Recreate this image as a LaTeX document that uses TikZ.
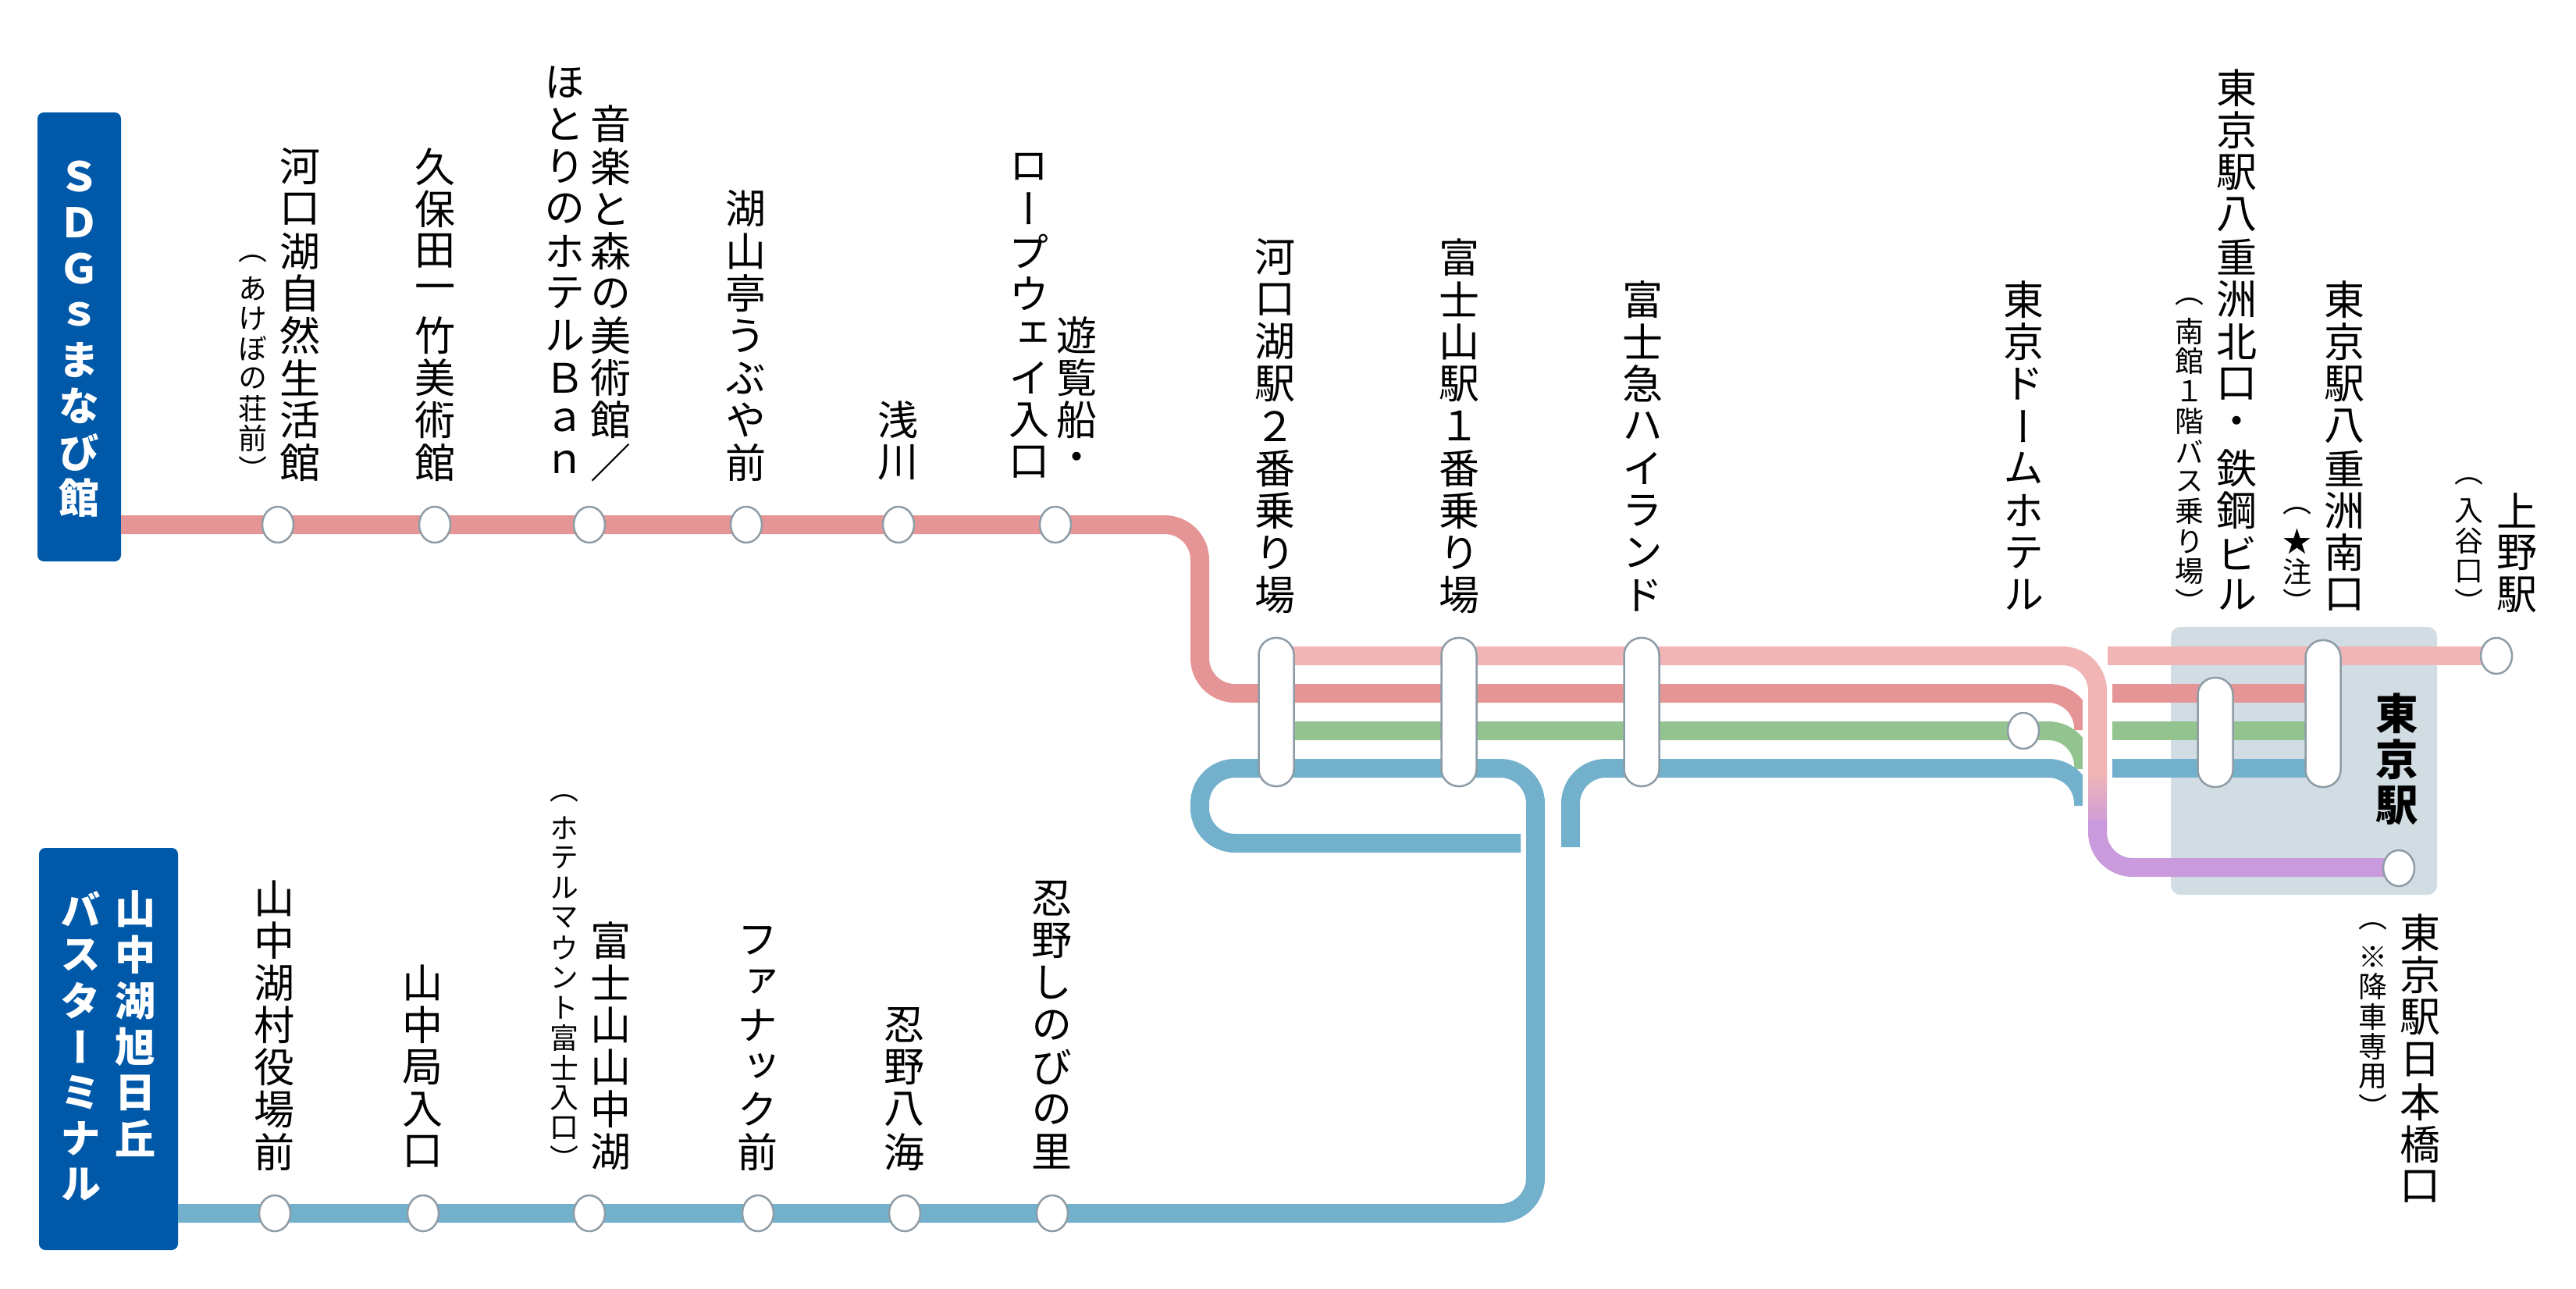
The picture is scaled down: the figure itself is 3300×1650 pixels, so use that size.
\documentclass[tikz,border=0pt]{standalone}
\usepackage{fontspec}
\newfontfamily\jp[RawFeature={+vert}]{Noto Sans CJK JP}
\usetikzlibrary{shapes.geometric, positioning}
\definecolor{lineRed}{HTML}{E69596}
\definecolor{linePink}{HTML}{F1B5B5}
\definecolor{lineGreen}{HTML}{93C48F}
\definecolor{lineBlue}{HTML}{72B0CC}
\definecolor{linePurple}{HTML}{C99ADC}
\definecolor{boxBlue}{HTML}{0058A9}
\definecolor{tokyoGrey}{HTML}{D1DCE3}
\definecolor{stopGrey}{HTML}{8E9CA6}
% vertical text: one character per row
\newcommand\tate[2][1.04]{\vbox{\offinterlineskip\def\tatesp{#1em}\tateA#2\relax}}
\def\tateA#1{\ifx\relax#1\else\hbox to 1em{\hss\vbox to \tatesp{\vss\hbox{#1}\vss}\hss}\expandafter\tateA\fi}
\tikzset{
    route/.style={line width=0.24cm, rounded corners=0.45cm},
    stop/.style={draw=stopGrey, fill=white, ellipse, line width=0.025cm, minimum width=0.4cm, minimum height=0.46cm, inner sep=0},
    pill/.style={draw=stopGrey, fill=white, rectangle, rounded corners=0.22cm, line width=0.025cm, minimum width=0.45cm, inner sep=0},
    lbl/.style={inner sep=0, font=\jp\fontsize{14.8}{16}\selectfont},
    sub/.style={inner sep=0, font=\jp\fontsize{10.5}{12}\selectfont},
    head/.style={inner sep=0, text=white, font=\jp\bfseries\fontsize{14.8}{16}\selectfont}
}
\begin{document}
\begin{tikzpicture}[x=0.01cm, y=-0.01cm]
    \useasboundingbox (0,0) rectangle (3300,1650);
    % terminals and Tokyo area
    \fill[boxBlue, rounded corners=0.08cm] (48,144) rectangle (155,719);
    \fill[boxBlue, rounded corners=0.08cm] (50,1086) rectangle (228,1601);
    \fill[tokyoGrey, rounded corners=0.12cm] (2781,803) rectangle (3122,1146);
    \node[head, anchor=north] (hSDG) at (102,196) {\tate[1.13]{ＳＤＧｓまなび館}};
    \node[head, anchor=north] (hYama1) at (174,1134) {\tate[1.13]{山中湖旭日丘}};
    \node[head, anchor=north] (hYama2) at (104,1134) {\tate[1.13]{バスターミナル}};
    \node[inner sep=0, font=\jp\bfseries\fontsize{15.5}{16}\selectfont, anchor=north] (hTokyo) at (3071,884) {\tate[1.08]{東京駅}};
    % routes, left parts
    \draw[route, lineRed] (155,672) -| (1537,888) -| (2669,935);
    \draw[route, lineGreen] (1635,936) -| (2669,985);
    \draw[route, lineBlue] (2012,1085) |- (2400,984) -| (2669,1032);
    \draw[route, lineBlue] (1948,1080) -| (1537,984) -| (1967,1554) -- (228,1554);
    % Ueno / Nihonbashi route crossing over
    \draw[route, white, line width=0.38cm] (2600,840) -| (2687,1040);
    \draw[route, linePink] (1635,840) -| (2687,1000);
    \shade[top color=linePink, bottom color=linePurple] (2675,990) rectangle (2699,1062);
    \draw[route, linePurple] (2687,1050) |- (3073,1111);
    % routes, right parts
    \draw[route, linePink] (2700,840) -- (3198,840);
    \draw[route, lineRed] (2706,888) -- (2976,888);
    \draw[route, lineGreen] (2706,936) -- (2976,936);
    \draw[route, lineBlue] (2706,984) -- (2976,984);
    % stops
    \foreach \x [count=\i] in {356,557,755,956,1151,1352}
        \node[stop] (t\i) at (\x,672) {};
    \foreach \x [count=\i] in {352,542,755,971,1159,1348}
        \node[stop] (b\i) at (\x,1554) {};
    \node[stop] (sDome) at (2592,936) {};
    \node[stop] (sUeno) at (3198,840) {};
    \node[stop] (sNihon) at (3073,1112) {};
    \node[pill, minimum height=1.9cm] (pKawa) at (1635,912) {};
    \node[pill, minimum height=1.9cm] (pFuji) at (1869,912) {};
    \node[pill, minimum height=1.9cm] (pHigh) at (2103,912) {};
    \node[pill, minimum height=1.4cm] (pNorth) at (2838,938) {};
    \node[pill, minimum height=1.88cm] (pSouth) at (2976,914) {};
    % labels, top row
    \node[lbl, anchor=south] (lShizen) at (385,620) {\tate{河口湖自然生活館}};
    \node[sub, anchor=south] (lShizenS) at (324,620) {\tate{（あけぼの荘前）}};
    \node[lbl, anchor=south] (lKubota) at (558,620) {\tate{久保田一竹美術館}};
    \node[lbl, anchor=south] (lOngaku) at (783,620) {\tate{音楽と森の美術館／}};
    \node[lbl, anchor=south] (lHotori) at (724,620) {\tate{ほとりのホテルＢａｎ}};
    \node[lbl, anchor=south] (lUbuya) at (956,620) {\tate{湖山亭うぶや前}};
    \node[lbl, anchor=south] (lAsa) at (1151,620) {\tate{浅川}};
    \node[lbl, anchor=south] (lYuran) at (1380,620) {\tate{遊覧船・}};
    \node[lbl, anchor=south] (lRope) at (1319,620) {\tate{ロープウェイ入口}};
    % labels, middle
    \node[lbl, anchor=south] (lKawa) at (1634,790) {\tate{河口湖駅２番乗り場}};
    \node[lbl, anchor=south] (lFuji) at (1869,790) {\tate{富士山駅１番乗り場}};
    \node[lbl, anchor=south] (lHigh) at (2104,790) {\tate{富士急ハイランド}};
    \node[lbl, anchor=south] (lDome) at (2592,790) {\tate{東京ドームホテル}};
    \node[lbl, anchor=south] (lNorth) at (2865,790) {\tate{東京駅八重洲北口・鉄鋼ビル}};
    \node[sub, anchor=south] (lNorthS) at (2805,790) {\tate{（南館１階バス乗り場）}};
    \node[lbl, anchor=south] (lSouth) at (3003,790) {\tate{東京駅八重洲南口}};
    \node[sub, anchor=south] (lSouthS) at (2943,790) {\tate{（★注）}};
    \node[lbl, anchor=south] (lUeno) at (3224,790) {\tate{上野駅}};
    \node[sub, anchor=south] (lUenoS) at (3163,790) {\tate{（入谷口）}};
    \node[lbl, anchor=north] (lNihon) at (3100,1167) {\tate{東京駅日本橋口}};
    \node[sub, anchor=north] (lNihonS) at (3040,1167) {\tate{（※降車専用）}};
    % labels, bottom row
    \node[lbl, anchor=south] (lMura) at (352,1503) {\tate{山中湖村役場前}};
    \node[lbl, anchor=south] (lKyoku) at (542,1503) {\tate{山中局入口}};
    \node[lbl, anchor=south] (lFujiYama) at (783,1503) {\tate{富士山山中湖}};
    \node[sub, anchor=south] (lFujiYamaS) at (723,1503) {\tate{（ホテルマウント富士入口）}};
    \node[lbl, anchor=south] (lFanuc) at (971,1503) {\tate{ファナック前}};
    \node[lbl, anchor=south] (lHakkai) at (1159,1503) {\tate{忍野八海}};
    \node[lbl, anchor=south] (lShinobi) at (1348,1503) {\tate{忍野しのびの里}};
\end{tikzpicture}
\end{document}
